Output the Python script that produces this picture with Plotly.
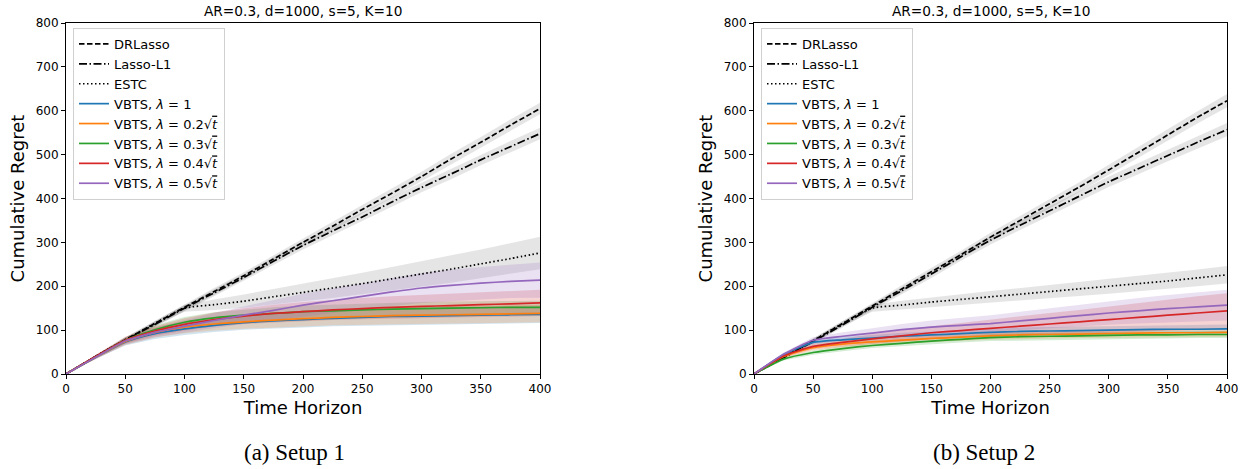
import plotly.graph_objects as go

# ---------------- data ----------------
t = [0, 25, 50, 75, 100, 125, 150, 175, 200, 225, 250, 275, 300, 325, 350, 375, 400]

names = ["DRLasso", "Lasso-L1", "ESTC",
         "VBTS, <i>λ</i> = 1",
         "VBTS, <i>λ</i> = 0.2√<span style='text-decoration:overline'><i>t</i></span>",
         "VBTS, <i>λ</i> = 0.3√<span style='text-decoration:overline'><i>t</i></span>",
         "VBTS, <i>λ</i> = 0.4√<span style='text-decoration:overline'><i>t</i></span>",
         "VBTS, <i>λ</i> = 0.5√<span style='text-decoration:overline'><i>t</i></span>"]

# Setup 1 means
s1_drlasso = [0, 40, 78, 115, 152, 188, 224, 262, 300, 337, 375, 412, 450, 490, 528, 567, 605]
s1_lasso   = [0, 40, 77, 113, 150, 185, 220, 257, 293, 326, 358, 392, 425, 456, 488, 518, 548]
s1_estc    = [0, 40, 78, 115, 150, 158, 166, 176, 186, 196, 206, 217, 228, 239, 251, 263, 276]
s1_v1      = [0, 38, 73, 92, 103, 111, 117, 121, 124, 127, 129, 131, 132, 133, 134, 135, 136]
s1_v02     = [0, 38, 74, 95, 107, 114, 119, 123, 126, 129, 131, 133, 134, 135, 136, 137, 138]
s1_v03     = [0, 39, 77, 101, 118, 128, 134, 138, 142, 144, 146, 148, 149, 150, 151, 152, 152]
s1_v04     = [0, 40, 77, 98, 113, 124, 132, 138, 142, 146, 149, 152, 154, 156, 158, 160, 162]
s1_v05     = [0, 38, 75, 95, 109, 122, 134, 145, 157, 167, 177, 187, 196, 202, 207, 211, 214]
# Setup 1 band half-widths
s1_drlasso_sd = [0, 3, 5, 6, 7, 8, 8, 9, 9, 10, 10, 11, 11, 12, 12, 13, 13]
s1_lasso_sd   = [0, 3, 5, 6, 7, 8, 8, 9, 9, 10, 10, 11, 11, 12, 12, 13, 13]
s1_estc_sd    = [0, 3, 5, 6, 8, 12, 15, 18, 20, 23, 25, 27, 29, 31, 33, 35, 37]
s1_v1_sd      = [0, 4, 8, 12, 14, 15, 16, 17, 18, 18, 19, 19, 20, 20, 20, 20, 20]
s1_v02_sd     = [0, 4, 8, 12, 14, 15, 16, 17, 18, 18, 19, 19, 20, 20, 20, 20, 20]
s1_v03_sd     = [0, 4, 7, 10, 12, 13, 13, 14, 14, 14, 15, 15, 15, 15, 15, 15, 15]
s1_v04_sd     = [0, 4, 8, 11, 14, 16, 18, 20, 22, 23, 24, 25, 26, 27, 28, 29, 30]
s1_v05_sd     = [0, 4, 8, 11, 14, 17, 20, 23, 26, 28, 30, 32, 34, 36, 37, 38, 40]

# Setup 2 means
s2_drlasso = [0, 38, 76, 115, 155, 194, 233, 272, 312, 350, 388, 426, 465, 505, 545, 585, 623]
s2_lasso   = [0, 37, 74, 112, 152, 190, 228, 267, 305, 339, 372, 405, 438, 468, 498, 528, 557]
s2_estc    = [0, 38, 76, 115, 150, 157, 164, 170, 176, 182, 188, 194, 200, 206, 212, 219, 226]
s2_v1      = [0, 44, 72, 78, 82, 86, 89, 92, 95, 97, 98, 99, 100, 101, 102, 102, 103]
s2_v02     = [0, 40, 60, 68, 73, 77, 81, 84, 87, 89, 90, 91, 92, 93, 94, 94, 95]
s2_v03     = [0, 34, 49, 58, 65, 70, 75, 79, 83, 85, 86, 87, 88, 89, 89, 90, 90]
s2_v04     = [0, 41, 63, 72, 80, 87, 94, 99, 104, 109, 114, 119, 124, 129, 134, 139, 144]
s2_v05     = [0, 45, 77, 86, 93, 101, 107, 111, 115, 121, 127, 133, 139, 144, 149, 153, 157]
# Setup 2 band half-widths
s2_drlasso_sd = [0, 3, 5, 6, 7, 8, 9, 9, 10, 10, 11, 11, 12, 13, 13, 14, 15]
s2_lasso_sd   = [0, 3, 5, 6, 7, 8, 9, 9, 10, 10, 11, 11, 12, 13, 13, 14, 15]
s2_estc_sd    = [0, 3, 5, 6, 8, 10, 11, 12, 13, 14, 15, 16, 17, 18, 18, 19, 20]
s2_v1_sd      = [0, 4, 6, 7, 7, 8, 8, 8, 9, 9, 9, 9, 10, 10, 10, 10, 10]
s2_v02_sd     = [0, 4, 6, 7, 7, 8, 8, 8, 9, 9, 9, 9, 10, 10, 10, 10, 10]
s2_v03_sd     = [0, 3, 5, 6, 6, 7, 7, 7, 8, 8, 8, 8, 8, 8, 8, 8, 8]
s2_v04_sd     = [0, 4, 7, 9, 11, 13, 15, 17, 20, 22, 25, 27, 30, 33, 35, 38, 40]
s2_v05_sd     = [0, 4, 7, 9, 11, 13, 15, 17, 19, 21, 23, 25, 27, 29, 31, 33, 35]

x_ticks = [0, 50, 100, 150, 200, 250, 300, 350, 400]
y_ticks = [0, 100, 200, 300, 400, 500, 600, 700, 800]
title_text = "AR=0.3, d=1000, s=5, K=10"
captions = ["(a) Setup 1", "(b) Setup 2"]

# ---------------- styles ----------------
colors = ["black", "black", "black", "#1f77b4", "#ff7f0e", "#2ca02c", "#d62728", "#9467bd"]
bands = ["rgba(0,0,0,0.10)", "rgba(0,0,0,0.10)", "rgba(0,0,0,0.10)",
         "rgba(31,119,180,0.2)", "rgba(255,127,14,0.2)", "rgba(44,160,44,0.2)",
         "rgba(214,39,40,0.2)", "rgba(148,103,189,0.2)"]
dashes = ["5.5px,2.5px", "8px,2.5px,1.5px,2.5px", "1.5px,2.5px", "solid", "solid", "solid", "solid", "solid"]

setups = [
    ([s1_drlasso, s1_lasso, s1_estc, s1_v1, s1_v02, s1_v03, s1_v04, s1_v05],
     [s1_drlasso_sd, s1_lasso_sd, s1_estc_sd, s1_v1_sd, s1_v02_sd, s1_v03_sd, s1_v04_sd, s1_v05_sd]),
    ([s2_drlasso, s2_lasso, s2_estc, s2_v1, s2_v02, s2_v03, s2_v04, s2_v05],
     [s2_drlasso_sd, s2_lasso_sd, s2_estc_sd, s2_v1_sd, s2_v02_sd, s2_v03_sd, s2_v04_sd, s2_v05_sd]),
]

# pixel geometry
W, H = 1246, 469
ML, MR, MT, MB = 66, 19, 23, 95
PW = W - ML - MR
PH = H - MT - MB
def px(xp):
    return (xp - ML) / PW
def py(yp):
    return (H - MB - yp) / PH

dom_x = [[px(66), px(540)], [px(754), px(1227)]]
caption_x = [px(294), px(984)]

fig = go.Figure()
for k, (means, sds) in enumerate(setups):
    xa = "x" if k == 0 else "x2"
    ya = "y" if k == 0 else "y2"
    lg = "legend" if k == 0 else "legend2"
    for i in range(len(means)):
        up = [m + s for m, s in zip(means[i], sds[i])]
        lo = [m - s for m, s in zip(means[i], sds[i])]
        fig.add_trace(go.Scatter(x=t + t[::-1], y=up + lo[::-1], fill="toself",
                                 fillcolor=bands[i], line=dict(width=0), mode="lines",
                                 hoverinfo="skip", showlegend=False, xaxis=xa, yaxis=ya))
    for i in range(len(means)):
        fig.add_trace(go.Scatter(x=t, y=means[i], mode="lines", name=names[i],
                                 line=dict(color=colors[i], width=1.7, dash=dashes[i],
                                           shape="spline", smoothing=0.6),
                                 xaxis=xa, yaxis=ya, legend=lg))

axis_common = dict(showline=True, linecolor="black", linewidth=1, mirror=True,
                   ticks="outside", ticklen=4, tickcolor="black", showgrid=False, zeroline=False,
                   automargin=False,
                   tickfont=dict(family="DejaVu Sans", size=12, color="black"))

for k in range(2):
    sfx = "" if k == 0 else "2"
    fig.layout["xaxis" + sfx] = dict(domain=dom_x[k], range=[0, 400], tickvals=x_ticks,
                                     anchor="y" + sfx,
                                     title=dict(text="Time Horizon", standoff=5,
                                                font=dict(family="DejaVu Sans", size=18, color="black")),
                                     **axis_common)
    fig.layout["yaxis" + sfx] = dict(domain=[0, 1], range=[0, 800], tickvals=y_ticks,
                                     anchor="x" + sfx,
                                     title=dict(text="Cumulative Regret", standoff=6,
                                                font=dict(family="DejaVu Sans", size=18, color="black")),
                                     **axis_common)

legend_common = dict(yanchor="top", xanchor="left", bgcolor="rgba(255,255,255,0.8)",
                     bordercolor="#d0d0d0", borderwidth=1,
                     font=dict(family="DejaVu Sans", size=13, color="black"),
                     tracegroupgap=0, itemwidth=30)
fig.update_layout(
    legend=dict(x=px(73), y=py(28), **legend_common),
    legend2=dict(x=px(761), y=py(28), **legend_common),
)

annotations = []
for k in range(2):
    cx = (dom_x[k][0] + dom_x[k][1]) / 2
    annotations.append(dict(text=title_text, x=cx, y=py(11), xref="paper", yref="paper",
                            showarrow=False, font=dict(family="DejaVu Sans", size=13.7, color="black"),
                            xanchor="center", yanchor="middle"))
    annotations.append(dict(text=captions[k], x=caption_x[k], y=py(452), xref="paper", yref="paper",
                            showarrow=False, font=dict(family="Liberation Serif", size=23, color="black"),
                            xanchor="center", yanchor="middle"))

fig.update_layout(width=W, height=H, margin=dict(l=ML, r=MR, t=MT, b=MB, autoexpand=False),
                  paper_bgcolor="white", plot_bgcolor="white", annotations=annotations,
                  font=dict(family="DejaVu Sans", color="black"))

fig.write_html("out.html", config={"displayModeBar": False},
               post_script="document.body.style.margin='0';document.body.style.padding='0';")
